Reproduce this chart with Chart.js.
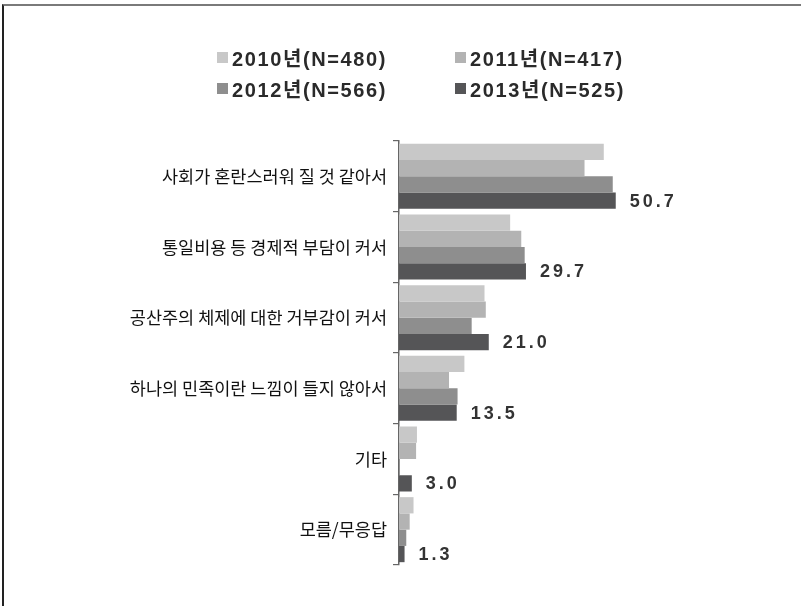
<!DOCTYPE html>
<html>
<head>
<meta charset="utf-8">
<script src="https://cdn.jsdelivr.net/npm/chart.js@4"></script>
<style>
  body { margin: 0; background: #fff; }
  #wrap { position: relative; width: 801px; height: 606px; overflow: hidden; background: #fff; }
  #frame { position: absolute; left: 2px; top: 4px; width: 801px; height: 606px;
           border-top: 2px solid #7a7a7a; border-left: 2px solid #222; }
  #chart { position: absolute; left: 0; top: 0; }
  #legend { position: absolute; left: 217px; top: 42px; display: grid;
            grid-template-columns: 238px auto; grid-auto-rows: 31px; }
  .item { display: flex; align-items: center; font-family: "Liberation Sans", "Noto Sans CJK KR", sans-serif;
          font-size: 20px; font-weight: bold; color: #2a2a2a; letter-spacing: 1.6px; white-space: nowrap; }
  .box { display: inline-block; width: 11px; height: 11px; margin-right: 4px; }
</style>
</head>
<body>
<div id="wrap">
  <canvas id="chart" width="801" height="606"></canvas>
  <div id="legend"></div>
  <div id="frame"></div>
</div>
<script>
// categorias e valores (%)
const categorias = [
  "사회가 혼란스러워 질 것 같아서",
  "통일비용 등 경제적 부담이 커서",
  "공산주의 체제에 대한 거부감이 커서",
  "하나의 민족이란 느낌이 들지 않아서",
  "기타",
  "모름/무응답"
];
const series = ["2010년(N=480)", "2011년(N=417)", "2012년(N=566)", "2013년(N=525)"];
const v2010 = [47.9, 26.0, 20.0, 15.3, 4.2, 3.4];
const v2011 = [43.4, 28.6, 20.3, 11.7, 4.0, 2.5];
const v2012 = [50.0, 29.4, 17.0, 13.7, 0.2, 1.7];
const v2013 = [50.7, 29.7, 21.0, 13.5, 3.0, 1.3];
const cores = ["#c8c8c8", "#b3b3b3", "#8e8e8e", "#555557"];

// rótulos só na série 2013
const rotulos = {
  id: "rotulos",
  afterDatasetsDraw(chart) {
    const ctx = chart.ctx;
    const meta = chart.getDatasetMeta(3);
    ctx.save();
    ctx.font = "bold 18px 'Liberation Sans', sans-serif";
    ctx.letterSpacing = "3px";
    ctx.fillStyle = "#333";
    ctx.textBaseline = "middle";
    ctx.textAlign = "left";
    meta.data.forEach((bar, i) => {
      ctx.fillText(v2013[i].toFixed(1), bar.x + 14, bar.y + 1);
    });
    ctx.restore();
  }
};

const chart = new Chart(document.getElementById("chart"), {
  type: "bar",
  data: {
    labels: categorias,
    datasets: [v2010, v2011, v2012, v2013].map((d, i) => ({
      label: series[i],
      data: d,
      backgroundColor: cores[i],
      borderWidth: 0,
      categoryPercentage: 0.92,
      barPercentage: 1.0
    }))
  },
  options: {
    indexAxis: "y",
    responsive: false,
    animation: false,
    layout: { padding: { top: 141, bottom: 41, left: 0, right: 60 } },
    plugins: { legend: { display: false }, tooltip: { enabled: false } },
    scales: {
      x: { display: false, min: 0, max: 80 },
      y: {
        afterFit(scale) { scale.width = 399; },
        grid: { offset: true, drawOnChartArea: false, tickLength: 6, color: "#666", lineWidth: 1.2 },
        border: { color: "#666", width: 1.5 },
        ticks: {
          color: "#111",
          padding: 6,
          font: { family: "'Noto Sans CJK KR', sans-serif", size: 17.5 }
        }
      }
    }
  },
  plugins: [rotulos]
});

// legenda em HTML, 2 colunas
const legenda = document.getElementById("legend");
chart.data.datasets.forEach(ds => {
  const item = document.createElement("div");
  item.className = "item";
  item.innerHTML = `<span class="box" style="background:${ds.backgroundColor}"></span>${ds.label}`;
  legenda.appendChild(item);
});
</script>
</body>
</html>
